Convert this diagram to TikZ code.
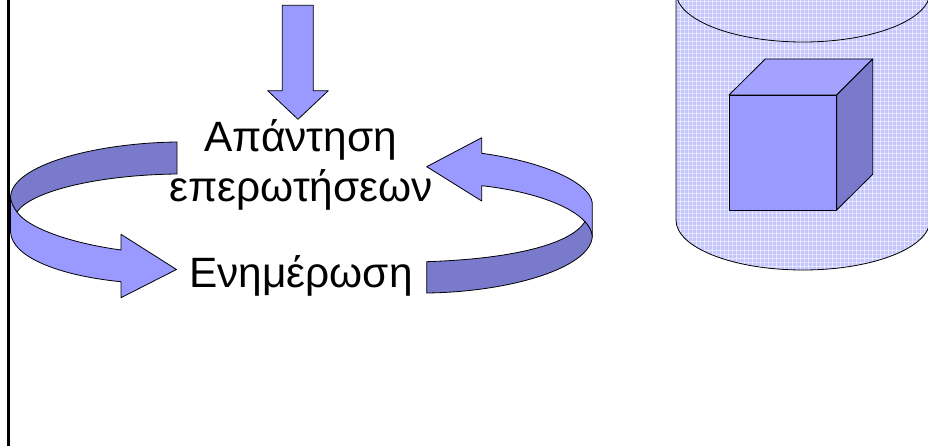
\documentclass[tikz,border=0pt]{standalone}
\usepackage{fontspec}
\setmainfont{Liberation Sans}
\definecolor{arrowblue}{HTML}{9999FF}
\definecolor{folddark}{HTML}{7A7ACC}
\definecolor{toplight}{HTML}{A3A3FF}
\definecolor{tankblue}{HTML}{C6C6FF}
\begin{document}
\begin{tikzpicture}[x=1pt,y=-1pt,
shape3d/.style={draw=black, line width=0.8pt, line join=round},
light/.style={shape3d, fill=arrowblue},
dark/.style={shape3d, fill=folddark},
label/.style={font=\fontsize{42.4}{42.4}\selectfont, inner sep=0pt, anchor=base}]
\useasboundingbox (0,0) rectangle (928,446);
\draw[line width=2.4pt] (8.6,0) -- (8.6,446);
% arrow coming down
\draw[light] (282.3,5.3) -- (313.3,5.3) -- (313.3,90.7) -- (328.3,90.7) -- (298,119.3) -- (267.7,90.7) -- (282.3,90.7) -- cycle;
% left arrow
\draw[light] (10.5,197) -- (10.5,232) .. controls (12,258) and (62,276) .. (121,281.7) -- (121,297.7) -- (176.5,269.5) -- (121,234.3) -- (121,250) .. controls (70,243) and (28,228) .. (17,212) -- cycle;
\draw[dark] (177,142) .. controls (95,143) and (12,165) .. (10.5,197) .. controls (11,203) and (14,208) .. (17,212) .. controls (30,192) and (95,175) .. (177,174) -- cycle;
% right arrow
\draw[light] (426.7,166.7) -- (481.7,137.7) -- (481.7,153.3) .. controls (545,162) and (590,183) .. (592.3,203) -- (592.3,236.7) .. controls (591,230) and (588,225) .. (585,221.7) .. controls (570,205) and (530,191) .. (481.7,185.7) -- (481.7,201) -- cycle;
\draw[dark] (426.7,261.7) .. controls (510,259) and (570,245) .. (585,221.7) .. controls (589,226) and (592,231) .. (592.3,236.7) .. controls (590,268) and (510,292) .. (426.7,293) -- cycle;
% texts
\node[label] (query) at (300.5,152) {Απάντηση};
\node[label] (queries) at (301,202) {επερωτήσεων};
\node[label] (update) at (301,287) {Ενημέρωση};
% tank
\begin{scope}
\clip (676,-8) -- (676,220) arc[start angle=180, end angle=360, x radius=127, y radius=-50] -- (930,-8) -- cycle;
\fill[tankblue] (670,-10) rectangle (935,275);
\foreach \gridx in {680,684,...,928} {\draw[white, line width=1pt, opacity=0.4] (\gridx,-10) -- (\gridx,275);}
\foreach \gridy in {2,6,...,272} {\draw[white, line width=1pt, opacity=0.4] (670,\gridy) -- (935,\gridy);}
\foreach \gridx in {680,688,...,928} {\draw[white, line width=1pt, opacity=0.3] (\gridx,-10) -- (\gridx,275);}
\foreach \gridy in {2,10,...,272} {\draw[white, line width=1pt, opacity=0.3] (670,\gridy) -- (935,\gridy);}
\end{scope}
\draw[shape3d] (676,-8) -- (676,220) arc[start angle=180, end angle=360, x radius=127, y radius=-50];
\draw[shape3d] (676,-8) arc[start angle=180, end angle=360, x radius=127, y radius=-50];
% cube
\draw[shape3d, fill=toplight] (729,95) -- (765.3,59) -- (872.7,59) -- (836.7,95) -- cycle;
\draw[dark] (836.7,95) -- (872.7,59) -- (872.7,174.3) -- (836.7,210) -- cycle;
\draw[light] (729,95) rectangle (836.7,210);
\end{tikzpicture}
\end{document}
